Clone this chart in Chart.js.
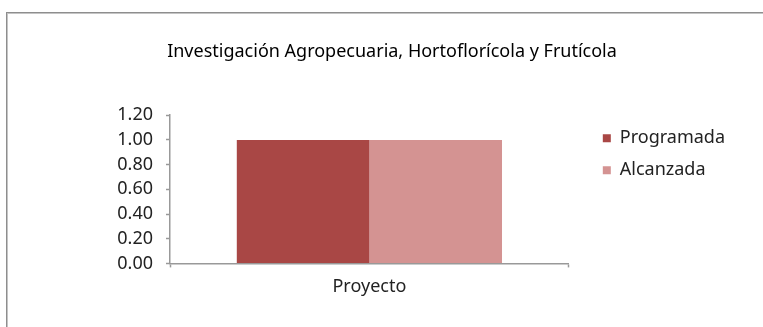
<!DOCTYPE html>
<html lang="es">
<head>
<meta charset="utf-8">
<title>Investigación Agropecuaria, Hortoflorícola y Frutícola</title>
<script src="https://cdn.jsdelivr.net/npm/chart.js@4/dist/chart.umd.min.js"></script>
<style>
  html, body { margin: 0; padding: 0; background: #fff; overflow: hidden; }
  #wrap { position: relative; width: 763px; height: 327px; }
  #frame {
    position: absolute; left: 6px; top: 12px; right: -10px; bottom: -10px;
    border: 1px solid #8e8e8e; box-shadow: inset 1px 1px 0 #c4c4c4;
    pointer-events: none;
  }
  #chart { position: absolute; left: 0; top: 0; }
</style>
</head>
<body>
<div id="wrap">
  <div id="frame"></div>
  <canvas id="chart" width="763" height="327"></canvas>
</div>
<script>
const chartTitle = "Investigación Agropecuaria, Hortoflorícola y Frutícola";
const categories = ["Proyecto"];
const seriesNames = ["Programada", "Alcanzada"];
const programada = [1.0];
const alcanzada = [1.0];
const yMin = 0;
const yMax = 1.2;
const yStep = 0.2;

const font = "'Noto Sans', sans-serif";
const axisGrey = "#999999";

const ctx = document.getElementById("chart").getContext("2d");
const chart = new Chart(ctx, {
  type: "bar",
  data: {
    labels: categories,
    datasets: [
      {
        label: seriesNames[0],
        data: programada,
        backgroundColor: "#a94745",
      },
      {
        label: seriesNames[1],
        data: alcanzada,
        backgroundColor: "#d49392",
      },
    ],
  },
  options: {
    responsive: false,
    animation: false,
    events: [],
    devicePixelRatio: 1,
    layout: { padding: { left: 49, right: 28, top: 0, bottom: 20 } },
    datasets: {
      bar: { categoryPercentage: 0.665, barPercentage: 1.0 },
    },
    plugins: {
      tooltip: { enabled: false },
      title: {
        display: true,
        text: chartTitle,
        color: "#000",
        font: { family: font, size: 18, weight: "normal" },
        padding: { top: 41, bottom: 52.6 },
      },
      legend: {
        position: "right",
        align: "start",
        fullSize: false,
        maxWidth: 200,
        labels: {
          color: "#222",
          boxWidth: 8,
          boxHeight: 8,
          padding: 14,
          font: { family: font, size: 18 },
        },
      },
    },
    scales: {
      x: {
        grid: {
          offset: true,
          drawOnChartArea: false,
          drawTicks: true,
          tickLength: 4,
          tickColor: axisGrey,
          tickWidth: 1.5,
        },
        border: { color: axisGrey, width: 1.5 },
        ticks: {
          color: "#222",
          padding: 9,
          font: { family: font, size: 18 },
        },
      },
      y: {
        min: yMin,
        max: yMax,
        afterFit: (scale) => { scale.width = 121; },
        grid: {
          drawOnChartArea: false,
          drawTicks: true,
          tickLength: 4,
          tickColor: axisGrey,
          tickWidth: 1.5,
        },
        border: { color: axisGrey, width: 1.5 },
        ticks: {
          stepSize: yStep,
          autoSkip: false,
          color: "#222",
          padding: 13,
          font: { family: font, size: 18 },
          callback: (v) => Number(v).toFixed(2),
        },
      },
      // empty right-hand axis, only keeps the legend clear of the plot
      gap: {
        type: "linear",
        axis: "y",
        position: "right",
        afterFit: (scale) => { scale.width = 20; },
        grid: { display: false },
        border: { display: false },
        ticks: { display: false },
      },
    },
  },
});
</script>
</body>
</html>
